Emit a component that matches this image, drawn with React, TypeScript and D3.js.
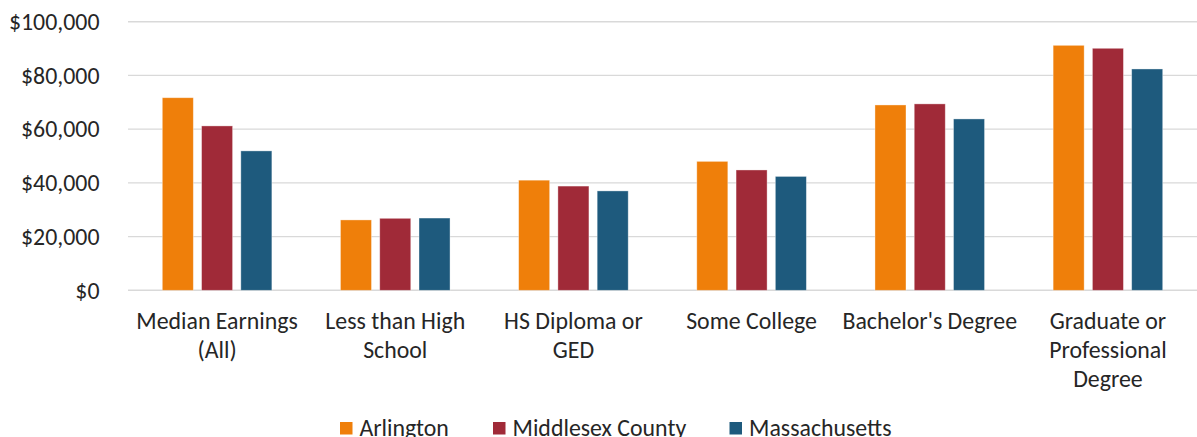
import React, { useMemo } from "react";
import * as d3 from "d3";

const categories: string[][] = [
  ["Median Earnings", "(All)"],
  ["Less than High", "School"],
  ["HS Diploma or", "GED"],
  ["Some College"],
  ["Bachelor's Degree"],
  ["Graduate or", "Professional", "Degree"],
];
const seriesNames = ["Arlington", "Middlesex County", "Massachusetts"];
const seriesColors = ["#EF7F0A", "#A02A38", "#1E5A7D"];
const arlington = [71700, 26200, 41000, 48000, 69000, 91200];
const middlesex = [61200, 26800, 38800, 44800, 69400, 90100];
const massachusetts = [51900, 26900, 37000, 42400, 63800, 82400];
const yTicks = [0, 20000, 40000, 60000, 80000, 100000];

const W = 1197;
const H = 437;
const FONT = "Carlito, Calibri, Lato, 'Open Sans', sans-serif";

function useFontSize(): number {
  return useMemo(() => {
    try {
      const c = document.createElement("canvas");
      const ctx = c.getContext("2d");
      if (!ctx) return 23.5;
      ctx.font = `100px ${FONT}`;
      const w = ctx.measureText("Median Earnings").width;
      // target width 161.7px in reference
      return (161.7 / w) * 100;
    } catch {
      return 23.5;
    }
  }, []);
}

export default function App() {
  const fs = useFontSize();
  const values = [arlington, middlesex, massachusetts];
  const left = 128;
  const right = 1197;
  const y = d3.scaleLinear().domain([0, 100000]).range([290.3, 21.7]);
  const x0 = d3
    .scaleBand<number>()
    .domain(categories.map((_, i) => i))
    .range([left, right])
    .paddingInner(0)
    .paddingOuter(0);
  const groupW = x0.bandwidth() * 0.615;
  const x1 = d3
    .scaleBand<number>()
    .domain(seriesNames.map((_, i) => i))
    .range([-groupW / 2, groupW / 2])
    .paddingInner(0.21)
    .paddingOuter(0);
  const fmt = (v: number) => "$" + d3.format(",")(v);

  const legendX = [340, 493, 729.5];

  return (
    <svg
      width={W}
      height={H}
      style={{ position: "absolute", left: 0, top: 0, background: "#fff" }}
      fontFamily={FONT}
    >
      <rect width={W} height={H} fill="#fff" />
      {yTicks.map((t) => (
        <g key={t}>
          <line
            x1={left}
            x2={right}
            y1={y(t)}
            y2={y(t)}
            stroke="#D9D9D9"
            strokeWidth={1.4}
          />
          <text
            x={99.5}
            y={y(t) + 8.3}
            textAnchor="end"
            fontSize={fs}
            fill="#262626"
          >
            {fmt(t)}
          </text>
        </g>
      ))}
      {categories.map((_, ci) =>
        values.map((vals, si) => {
          const cx = (x0(ci) as number) + x0.bandwidth() / 2;
          const bx = cx + (x1(si) as number);
          return (
            <rect
              key={`${ci}-${si}`}
              x={bx}
              y={y(vals[ci])}
              width={x1.bandwidth()}
              height={y(0) - y(vals[ci])}
              fill={seriesColors[si]}
              stroke="rgba(255,255,255,0.45)"
              strokeWidth={0.8}
            />
          );
        })
      )}
      {categories.map((lines, ci) => {
        const cx = (x0(ci) as number) + x0.bandwidth() / 2;
        return (
          <text key={ci} textAnchor="middle" fontSize={fs} fill="#262626">
            {lines.map((l, li) => (
              <tspan key={li} x={cx} y={329 + li * 29}>
                {l}
              </tspan>
            ))}
          </text>
        );
      })}
      {seriesNames.map((n, si) => (
        <g key={n}>
          <rect
            x={legendX[si]}
            y={422}
            width={12.5}
            height={12.5}
            fill={seriesColors[si]}
          />
          <text x={legendX[si] + 19.5} y={435.5} fontSize={fs} fill="#262626">
            {n}
          </text>
        </g>
      ))}
    </svg>
  );
}
